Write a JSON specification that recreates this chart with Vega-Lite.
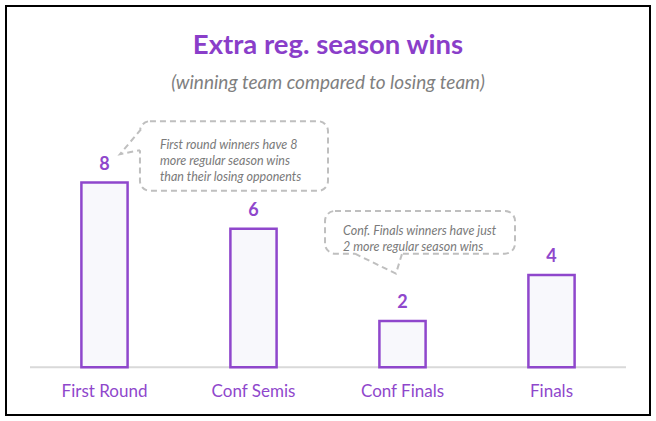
{
  "$schema": "https://vega.github.io/schema/vega-lite/v6.json",
  "width": 644,
  "height": 409,
  "padding": 6,
  "background": "white",
  "config": {
    "view": {"stroke": "#000000", "strokeWidth": 2},
    "font": "Lato"
  },
  "title": {
    "text": "Extra reg. season wins",
    "subtitle": "(winning team compared to losing team)",
    "anchor": "middle",
    "frame": "group",
    "offset": -87,
    "font": "Lato",
    "fontSize": 27.5,
    "fontWeight": "bold",
    "color": "#8a3ec9",
    "subtitleFont": "Lato",
    "subtitleFontStyle": "italic",
    "subtitleFontSize": 19,
    "subtitleColor": "#7f7f7f",
    "subtitlePadding": 15
  },
  "datasets": {
    "bars": [
      {"stage": "First Round", "wins": 8},
      {"stage": "Conf Semis", "wins": 6},
      {"stage": "Conf Finals", "wins": 2},
      {"stage": "Finals", "wins": 4}
    ],
    "boxes": [
      {"x": 0.738, "x2": 2.0, "y": 10.66, "y2": 7.64},
      {"x": 1.98, "x2": 3.255, "y": 6.77, "y2": 4.92}
    ],
    "notes": [
      {"x": 0.872, "y": 9.9, "text": ["First round winners have 8", "more regular season wins", "than their losing opponents"]},
      {"x": 2.101, "y": 6.15, "text": ["Conf. Finals winners have just", "2 more regular season wins"]}
    ],
    "gaps": [
      {"x": 0.738, "x2": 0.738, "y": 10.31, "y2": 9.40},
      {"x": 2.181, "x2": 2.497, "y": 4.92, "y2": 4.92}
    ],
    "tails": [
      {"id": 1, "o": 1, "x": 0.745, "y": 10.31},
      {"id": 1, "o": 2, "x": 0.604, "y": 9.23},
      {"id": 1, "o": 3, "x": 0.738, "y": 9.40},
      {"id": 2, "o": 1, "x": 2.181, "y": 4.92},
      {"id": 2, "o": 2, "x": 2.456, "y": 4.055},
      {"id": 2, "o": 3, "x": 2.497, "y": 4.92}
    ],
    "baseline": [
      {"x": 0, "x2": 4, "y": 0}
    ]
  },
  "resolve": {"scale": {"x": "independent"}, "axis": {"x": "independent"}},
  "layer": [
    {
      "data": {"name": "baseline"},
      "mark": {"type": "rule", "stroke": "#d9d9d9", "strokeWidth": 2},
      "encoding": {
        "x": {"field": "x", "type": "quantitative", "scale": {"domain": [-0.161, 4.161], "nice": false, "zero": false}, "axis": null},
        "x2": {"field": "x2"},
        "y": {"field": "y", "type": "quantitative", "scale": {"domain": [-2.071, 15.65], "nice": false, "zero": false}, "axis": null}
      }
    },
    {
      "data": {"name": "bars"},
      "encoding": {
        "x": {
          "field": "stage", "type": "nominal", "sort": null,
          "scale": {"paddingInner": 0.69, "paddingOuter": 0.506},
          "axis": {
            "title": null, "orient": "bottom", "offset": -48, "domain": false, "ticks": false,
            "labelColor": "#8f47cc", "labelFont": "Lato", "labelFontSize": 17, "labelPadding": 16, "labelAngle": 0
          }
        },
        "y": {"field": "wins", "type": "quantitative", "axis": null}
      },
      "layer": [
        {
          "mark": {"type": "bar", "fill": "#f8f8fc", "stroke": "#8f47cc", "strokeWidth": 2.5}
        },
        {
          "mark": {"type": "text", "baseline": "alphabetic", "dy": -13, "fontSize": 18, "fontWeight": "bold", "color": "#8f47cc", "font": "Lato"},
          "encoding": {"text": {"field": "wins", "type": "quantitative"}}
        }
      ]
    },
    {
      "data": {"name": "boxes"},
      "mark": {"type": "rect", "fill": "white", "stroke": "#bfbfbf", "strokeWidth": 2, "strokeDash": [6, 4], "cornerRadius": 10},
      "encoding": {
        "x": {"field": "x", "type": "quantitative", "scale": {"domain": [-0.161, 4.161], "nice": false, "zero": false}, "axis": null},
        "x2": {"field": "x2"},
        "y": {"field": "y", "type": "quantitative", "axis": null},
        "y2": {"field": "y2"}
      }
    },
    {
      "data": {"name": "gaps"},
      "mark": {"type": "rule", "stroke": "white", "strokeWidth": 4},
      "encoding": {
        "x": {"field": "x", "type": "quantitative", "scale": {"domain": [-0.161, 4.161], "nice": false, "zero": false}, "axis": null},
        "x2": {"field": "x2"},
        "y": {"field": "y", "type": "quantitative", "axis": null},
        "y2": {"field": "y2"}
      }
    },
    {
      "data": {"name": "tails"},
      "mark": {"type": "line", "stroke": "#bfbfbf", "strokeWidth": 2, "strokeDash": [6, 4]},
      "encoding": {
        "x": {"field": "x", "type": "quantitative", "scale": {"domain": [-0.161, 4.161], "nice": false, "zero": false}, "axis": null},
        "y": {"field": "y", "type": "quantitative", "axis": null},
        "detail": {"field": "id", "type": "nominal"},
        "order": {"field": "o", "type": "quantitative"}
      }
    },
    {
      "data": {"name": "notes"},
      "mark": {"type": "text", "align": "left", "baseline": "top", "fontSize": 12.5, "fontStyle": "italic", "color": "#7a7a7a", "font": "Lato", "lineHeight": 16},
      "encoding": {
        "x": {"field": "x", "type": "quantitative", "scale": {"domain": [-0.161, 4.161], "nice": false, "zero": false}, "axis": null},
        "y": {"field": "y", "type": "quantitative", "axis": null},
        "text": {"field": "text"}
      }
    }
  ]
}
